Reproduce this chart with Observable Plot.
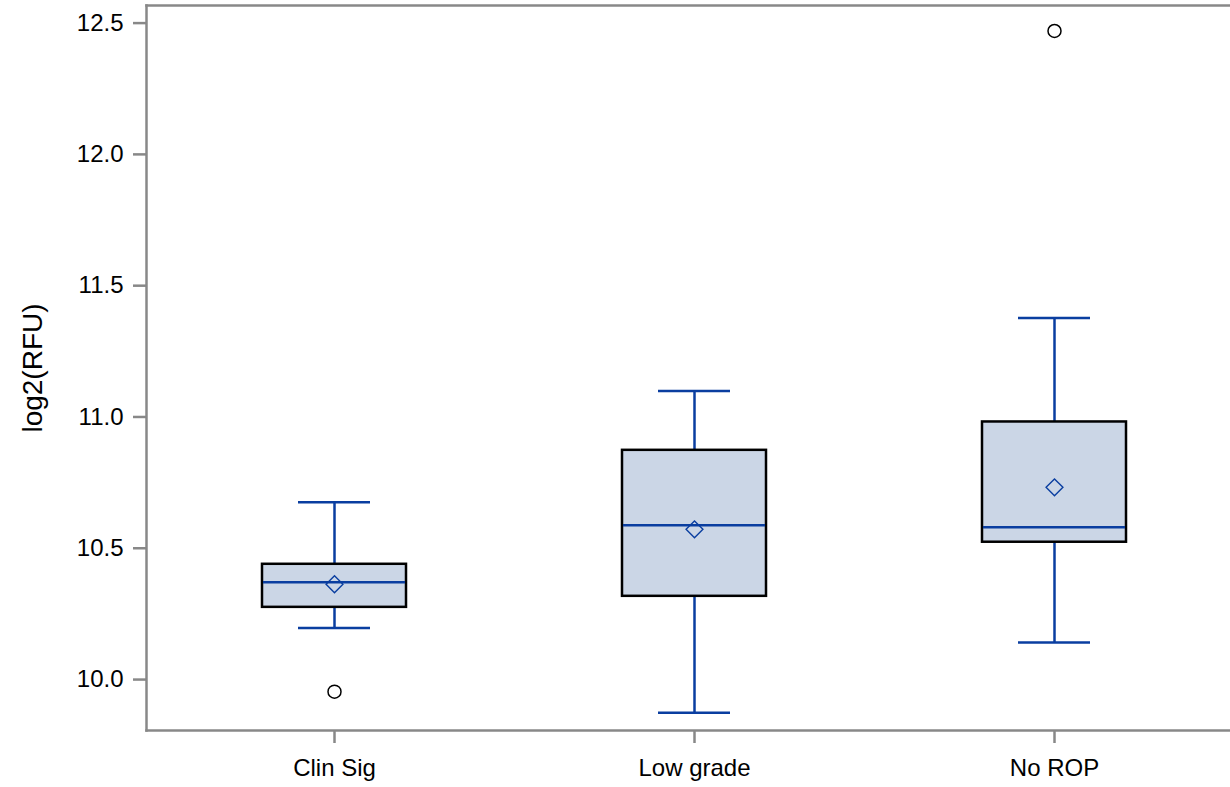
<!DOCTYPE html>
<html>
<head>
<meta charset="utf-8">
<script src="https://cdn.jsdelivr.net/npm/d3@7"></script>
<script src="https://cdn.jsdelivr.net/npm/@observablehq/plot@0.6"></script>
<style>
  html, body { margin: 0; padding: 0; background: #fff; }
  #chart { width: 1230px; height: 787px; }
</style>
</head>
<body>
<div id="chart"></div>
<script>
const groups = ["Clin Sig", "Low grade", "No ROP"];
const q1 = [10.275, 10.317, 10.523];
const median = [10.371, 10.588, 10.580];
const q3 = [10.439, 10.873, 10.981];
const mean = [10.363, 10.572, 10.732];
const whiskerLow = [10.196, 9.874, 10.141];
const whiskerHigh = [10.675, 11.099, 11.377];
const outlierGroups = ["Clin Sig", "No ROP"];
const outlierValues = [9.954, 12.47];
const yTicks = [10.0, 10.5, 11.0, 11.5, 12.0, 12.5];
const yLabel = ["log2(RFU)"];

const boxes = groups.map((g, i) => ({
  group: g, q1: q1[i], median: median[i], q3: q3[i], mean: mean[i],
  lo: whiskerLow[i], hi: whiskerHigh[i]
}));
const outliers = outlierGroups.map((g, i) => ({group: g, value: outlierValues[i]}));

const blue = "#0a3ea0";
const fill = "#cbd6e6";
const font = "'Liberation Sans', Arial, sans-serif";

const chart = Plot.plot({
  width: 1230,
  height: 787,
  marginTop: 5,
  marginBottom: 57,
  marginLeft: 146,
  marginRight: 0,
  style: {fontFamily: font, fontSize: "24px", background: "white", color: "black"},
  x: {domain: groups, range: [152.75, 1234.25], padding: 0},
  y: {domain: [9.806, 12.567]},
  marks: [
    Plot.ruleX(boxes, {x: "group", y1: "q3", y2: "hi", stroke: blue, strokeWidth: 2.5}),
    Plot.ruleX(boxes, {x: "group", y1: "lo", y2: "q1", stroke: blue, strokeWidth: 2.5}),
    Plot.tickY(boxes, {x: "group", y: "hi", stroke: blue, strokeWidth: 2.5, insetLeft: 144, insetRight: 144}),
    Plot.tickY(boxes, {x: "group", y: "lo", stroke: blue, strokeWidth: 2.5, insetLeft: 144, insetRight: 144}),
    Plot.barY(boxes, {x: "group", y1: "q1", y2: "q3", fill: fill, stroke: "black", strokeWidth: 2.5, insetLeft: 108, insetRight: 108}),
    Plot.tickY(boxes, {x: "group", y: "median", stroke: blue, strokeWidth: 2.5, insetLeft: 109, insetRight: 109}),
    Plot.dot(boxes, {x: "group", y: "mean", symbol: "diamond2", r: 7.6, stroke: blue, strokeWidth: 1.4, fill: "none"}),
    Plot.dot(outliers, {x: "group", y: "value", symbol: "circle", r: 6.5, stroke: "black", strokeWidth: 1.5, fill: "none"}),
    Plot.frame({anchor: "left", stroke: "#888", strokeWidth: 2.5}),
    Plot.frame({anchor: "top", stroke: "#888", strokeWidth: 2.5}),
    Plot.frame({anchor: "bottom", stroke: "#888", strokeWidth: 2.5}),
    Plot.axisY({ticks: yTicks, tickFormat: d3.format(".1f"), tickSize: 13, tickPadding: 10, stroke: "#888", strokeWidth: 2.5, color: "black",
      label: null, fontSize: 24}),
    Plot.axisX({tickSize: 13, tickPadding: 15, stroke: "#888", strokeWidth: 2.5, color: "black", label: null, fontSize: 24}),
    Plot.text(yLabel, {frameAnchor: "left", textAnchor: "middle", dx: -113, rotate: -90, fontSize: 28, fill: "black"})
  ]
});
document.getElementById("chart").append(chart);
</script>
</body>
</html>
